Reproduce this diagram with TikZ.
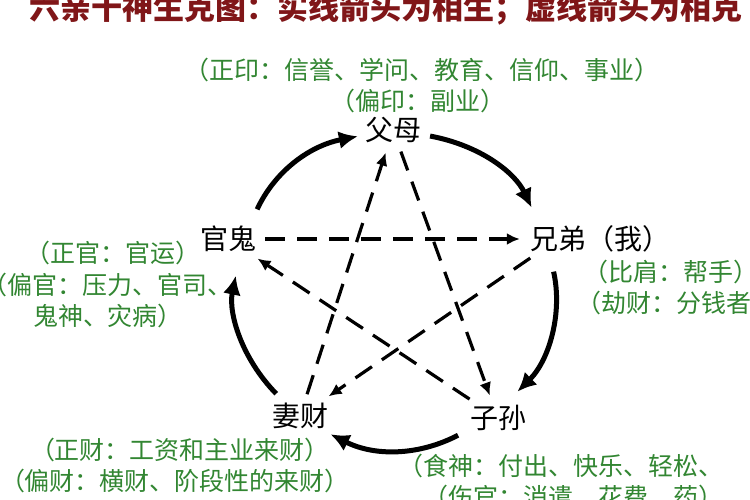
\documentclass[tikz,border=0pt]{standalone}
\usepackage{fontspec}
\usepackage{tikz}
\usetikzlibrary{arrows.meta,positioning}
\newfontfamily\cjk{Noto Sans CJK SC}
\definecolor{titlered}{RGB}{128,22,24}
\definecolor{leafgreen}{RGB}{50,134,50}

\begin{document}
\begin{tikzpicture}[x=1pt,y=-1pt,
	kin/.style={inner sep=2pt,font=\cjk\fontsize{28}{30}\selectfont},
	note/.style={inner sep=0pt,text=leafgreen,font=\cjk\fontsize{25}{27}\selectfont},
	sheng/.style={line width=5pt,-{Latex[length=19pt,width=18pt]}},
	ke/.style={line width=3.2pt,dash pattern=on 20pt off 12pt,-{Latex[length=13pt,width=12pt]},shorten <=7pt,shorten >=8pt}]
	\useasboundingbox (0,0) rectangle (750,500);
	\node[inner sep=0pt,font=\cjk\bfseries\fontsize{31}{33}\selectfont,text=titlered] (title) at (386,9) {六亲十神生克图：实线箭头为相生；虚线箭头为相克};

	\node[kin] (fumu) at (393,130) {父母};
	\node[kin] (xiongdi) at (558,239) {兄弟};
	\node[kin,right=-4pt of xiongdi] (wo) {（我）};
	\node[kin] (guangui) at (228,239) {官鬼};
	\node[kin] (qicai) at (300,416) {妻财};
	\node[kin] (zisun) at (498,418) {子孙};

	\node[note] (zhengyin) at (422,70) {（正印：信誉、学问、教育、信仰、事业）};
	\node[note] (pianyin) at (418,101) {（偏印：副业）};
	\node[note] (zhengguan) at (113,253) {（正官：官运）};
	\node[note] (pianguan) at (108,285) {（偏官：压力、官司、};
	\node[note] (guishen) at (108,316) {鬼神、灾病）};
	\node[note,anchor=west] (bijian) at (583,272) {（比肩：帮手）};
	\node[note,anchor=west] (jiecai) at (576,303) {（劫财：分钱者）};
	\node[note] (zhengcai) at (180,450) {（正财：工资和主业来财）};
	\node[note] (piancai) at (175,481) {（偏财：横财、阶段性的来财）};
	\node[note,anchor=west] (shishen) at (398,466) {（食神：付出、快乐、轻松、};
	\node[note,anchor=west] (shangguan) at (423,497) {（伤官：消遣、花费、药）};

	\draw[sheng,bend left=27,shorten <=16pt,shorten >=5pt] (guangui.34) to (fumu.190);
	\draw[sheng,bend left=27,shorten <=7pt,shorten >=18pt] (fumu.-9) to (xiongdi.141);
	\draw[sheng,bend left=29,shorten <=18pt,shorten >=16pt] (xiongdi.-119) to (zisun.62);
	\draw[sheng,bend left=27,shorten <=11pt,shorten >=7pt] (zisun.202) to (qicai.-32);
	\draw[sheng,bend left=28,shorten <=10pt,shorten >=22pt] (qicai.138) to (guangui.-51);

	\draw[ke] (guangui) -- (xiongdi);
	\draw[ke] (qicai) -- (fumu);
	\draw[ke] (fumu) -- (zisun);
	\draw[ke] (xiongdi) -- (qicai);
	\draw[ke] (zisun) -- (guangui);
\end{tikzpicture}
\end{document}
